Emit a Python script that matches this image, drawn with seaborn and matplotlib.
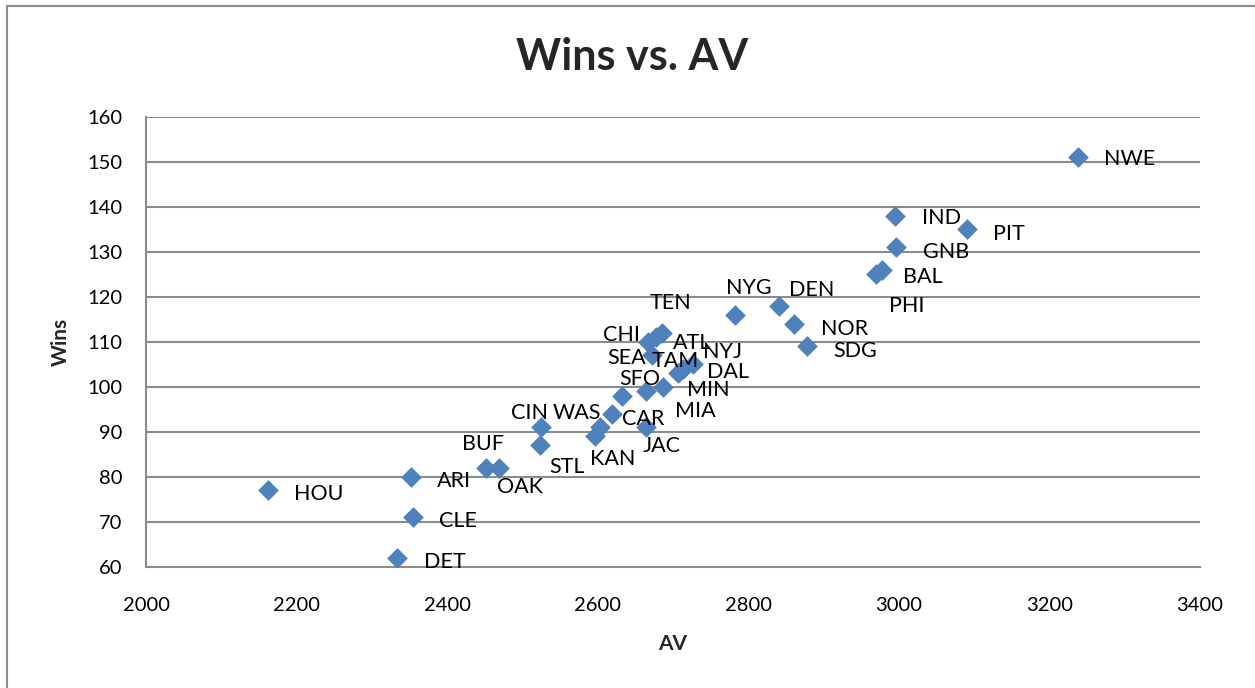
import matplotlib
matplotlib.use('Agg')
import matplotlib.pyplot as plt
import seaborn as sns
import pandas as pd
from matplotlib.patches import Rectangle

teams = ['NWE', 'IND', 'PIT', 'GNB', 'BAL', 'PHI', 'NYG', 'DEN', 'NOR', 'SDG',
         'TEN', 'CHI', 'ATL', 'NYJ', 'SEA', 'TAM', 'DAL', 'SFO', 'MIN', 'MIA',
         'CIN', 'WAS', 'CAR', 'JAC', 'KAN', 'STL', 'HOU', 'ARI', 'BUF', 'OAK',
         'CLE', 'DET']
av = [3238, 2995, 3091, 2996, 2978, 2969, 2783, 2841, 2861, 2878,
      2685, 2667, 2677, 2713, 2672, 2707, 2727, 2632, 2687, 2664,
      2525, 2603, 2619, 2664, 2596, 2523, 2162, 2352, 2451, 2469,
      2355, 2334]
wins = [151, 138, 135, 131, 126, 125, 116, 118, 114, 109,
        112, 110, 111, 104, 107, 103, 105, 98, 100, 99,
        91, 91, 94, 91, 89, 87, 77, 80, 82, 82,
        71, 62]

# label offsets in pixels (left edge / vertical centre of text vs marker centre)
label_off = {
    'NWE': (26, 1), 'IND': (27, 1), 'PIT': (26, -2), 'GNB': (27, -2),
    'BAL': (21, -4), 'PHI': (13, -29), 'NYG': (-9, 30), 'DEN': (10, 19),
    'NOR': (27, -2), 'SDG': (26, -2), 'TEN': (-12, 33), 'CHI': (-45, 10),
    'ATL': (17, -3), 'NYJ': (20, 20), 'SEA': (-45, 0), 'TAM': (-27, 15),
    'DAL': (14, -5), 'SFO': (-3, 20), 'MIN': (24, 0), 'MIA': (29, -17),
    'CIN': (-30, 17), 'WAS': (-47, 17), 'CAR': (10, -2), 'JAC': (-3, -16),
    'KAN': (-5, -20), 'STL': (10, -19), 'HOU': (26, -1), 'ARI': (26, -1),
    'BUF': (-24, 27), 'OAK': (-2, -16), 'CLE': (26, -1), 'DET': (27, -1),
}

df = pd.DataFrame({'Team': teams, 'AV': av, 'Wins': wins})

sns.set_style('white')
plt.rcParams['font.family'] = ['Lato', 'DejaVu Sans']

fig = plt.figure(figsize=(12.55, 6.88), dpi=100)
fig.patches.append(Rectangle((7 / 1255, -0.1), 1.2, 1 - 6 / 688 + 0.1,
                             transform=fig.transFigure, fill=False,
                             edgecolor='#8c8c8c', linewidth=1.5))
ax = fig.add_axes([146 / 1255, 1 - 566.7 / 688, 1054 / 1255, 449.7 / 688])

grid_c = '#8c8c8c'
sns.scatterplot(data=df, x='AV', y='Wins', marker='D', s=100,
                color='#4F81BD', edgecolor='#4F81BD', linewidth=0.5,
                ax=ax, zorder=3, legend=False)

for t, x, y in zip(teams, av, wins):
    dx, dy = label_off[t]
    ax.annotate(t, (x, y), xytext=(dx, dy - 3), textcoords='offset pixels',
                ha='left', va='center', fontsize=15.5, color='black', zorder=4)

ax.set_xlim(2000, 3400)
ax.set_ylim(60, 160)
ax.set_xticks(range(2000, 3401, 200))
ax.set_yticks(range(60, 161, 10))
ax.grid(axis='y', color=grid_c, linewidth=1.5)
ax.grid(axis='x', visible=False)
ax.set_axisbelow(True)
for side in ['top', 'right']:
    ax.spines[side].set_visible(False)
for side in ['left', 'bottom']:
    ax.spines[side].set_color(grid_c)
    ax.spines[side].set_linewidth(1.5)
ax.tick_params(axis='both', length=0, labelsize=14.5, colors='black')
ax.tick_params(axis='y', pad=17)
ax.tick_params(axis='x', pad=22)

ax.set_xlabel('AV', fontsize=15, fontweight='bold', labelpad=14)
ax.set_ylabel('Wins', fontsize=15, fontweight='bold', labelpad=12)
fig.text(632 / 1255, 1 - 57 / 688, 'Wins vs. AV', ha='center', va='center',
         fontsize=31, fontweight='bold')

fig.savefig('out.png', dpi=100)
